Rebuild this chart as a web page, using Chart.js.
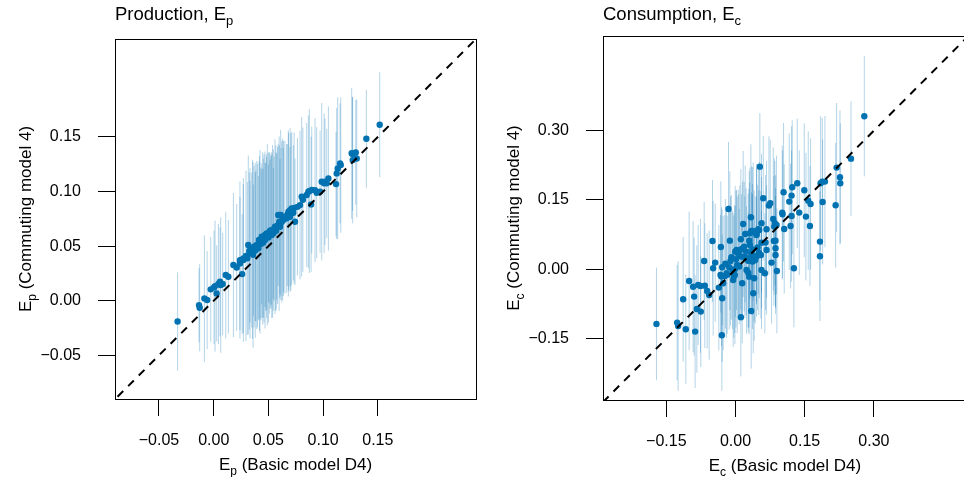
<!DOCTYPE html>
<html>
<head>
<meta charset="utf-8">
<script src="https://cdn.jsdelivr.net/npm/chart.js@4.4.1/dist/chart.umd.min.js"></script>
<style>
  html, body { margin: 0; padding: 0; background: #fff; overflow: hidden; width: 964px; height: 477px; }
  canvas { position: absolute; top: 0; }
</style>
</head>
<body>
<canvas id="prodChart" width="490" height="477" style="left:0"></canvas>
<canvas id="consChart" width="490" height="477" style="left:490px"></canvas>
<script>
// Production: basic model D4 (x), commuting model 4 (y), half-length of the interval (err)
const prodX = [-0.033,-0.0134,-0.0128,-0.0085,-0.006,-0.0027,0.0003,0.0012,0.0027,0.0043,0.0058,0.0064,0.0082,0.011,0.0134,0.018,0.021,0.024,0.024,0.026,
  0.027,0.0271,0.0307,0.0316,0.0332,0.0332,0.0347,0.036,0.0362,0.0369,0.0378,0.038,0.0393,0.0408,0.0414,0.0423,0.043,0.0439,0.0448,0.045,
  0.0453,0.0469,0.0469,0.0484,0.0484,0.05,0.05,0.0515,0.0515,0.053,0.053,0.0545,0.0545,0.056,0.0576,0.057,0.059,0.06,0.0606,0.0612,
  0.0622,0.0636,0.0637,0.0667,0.0682,0.0683,0.0697,0.0698,0.0713,0.0728,0.0743,0.0789,0.0804,0.085,0.0865,0.0874,0.089,0.0896,0.0926,0.0941,
  0.0972,0.0987,0.1009,0.1017,0.1033,0.1048,0.1118,0.1124,0.1133,0.1155,0.1161,0.1261,0.1268,0.127,0.1298,0.1307,0.1395,0.1517,
  0.0295,0.0325,0.0355,0.0385,0.04,0.0418,0.0435,0.046,0.0475,0.049,0.0508,0.0522,0.0538,0.0552,0.0568,0.0583,0.0598,0.0615,0.063,0.065,
  0.0672,0.0705,0.0735,0.0765,0.0815];
const prodY = [-0.019,-0.004,-0.0064,0.002,0.0006,0.0104,0.0122,0.0134,0.0067,0.0153,0.0174,0.0143,0.0153,0.0235,0.022,0.0327,0.0305,0.0372,0.0342,0.0244,
  0.0388,0.0373,0.0388,0.051,0.0449,0.0434,0.0464,0.042,0.0464,0.0495,0.0495,0.046,0.051,0.048,0.0556,0.054,0.052,0.0586,0.057,0.053,
  0.0571,0.0556,0.0602,0.0592,0.0617,0.0617,0.058,0.0641,0.0632,0.0601,0.0647,0.0647,0.0617,0.0678,0.0678,0.064,0.0785,0.0723,0.0678,0.0785,
  0.0723,0.0739,0.0754,0.0755,0.08,0.0815,0.0769,0.083,0.0846,0.0806,0.0723,0.0876,0.0952,0.0968,0.0998,0.1004,0.0882,0.1014,0.1013,0.0989,
  0.0998,0.109,0.1075,0.109,0.1075,0.112,0.1068,0.1166,0.1212,0.1258,0.1242,0.135,0.1343,0.1288,0.1358,0.1303,0.1484,0.1612,
  0.041,0.0455,0.047,0.05,0.0505,0.0525,0.055,0.057,0.0585,0.0605,0.062,0.0625,0.0635,0.066,0.0665,0.069,0.0705,0.072,0.0745,0.0765,
  0.0785,0.0815,0.085,0.086,0.0925];
const prodErr = [0.045,0.034,0.040,0.058,0.045,0.048,0.052,0.060,0.044,0.055,0.050,0.062,0.047,0.058,0.052,0.066,0.058,0.072,0.061,0.055,
  0.068,0.075,0.070,0.082,0.065,0.078,0.071,0.085,0.060,0.074,0.068,0.080,0.077,0.066,0.072,0.084,0.070,0.062,0.079,0.068,
  0.073,0.081,0.066,0.075,0.070,0.063,0.078,0.071,0.066,0.076,0.069,0.074,0.060,0.080,0.067,0.072,0.065,0.070,0.062,0.078,
  0.074,0.066,0.071,0.068,0.076,0.072,0.064,0.075,0.070,0.062,0.058,0.068,0.073,0.066,0.070,0.075,0.062,0.058,0.066,0.060,
  0.056,0.072,0.064,0.058,0.050,0.066,0.048,0.060,0.065,0.055,0.062,0.060,0.052,0.058,0.048,0.054,0.045,0.048,
  0.078,0.072,0.082,0.069,0.075,0.080,0.071,0.077,0.068,0.083,0.074,0.070,0.079,0.066,0.076,0.072,0.080,0.068,0.074,0.070,
  0.065,0.072,0.069,0.063,0.066];

// Consumption: basic model D4 (x), commuting model 4 (y), half-length of the interval (err)
const consX = [-0.1715,-0.1266,-0.1245,-0.1136,-0.1078,-0.1006,-0.092,-0.0897,-0.0876,-0.0839,-0.081,-0.076,-0.0753,-0.068,-0.0666,-0.0615,-0.0572,-0.0499,-0.0485,-0.0441,
  -0.0362,-0.0318,-0.0326,-0.0304,-0.0289,-0.0289,-0.0297,-0.0268,-0.0232,-0.0195,-0.018,-0.0152,-0.0123,-0.0137,-0.0109,-0.0065,-0.0051,-0.0036,-0.0014,-0.0015,
  -0.0007,0.0022,0.0036,0.0058,0.008,0.0093,0.0116,0.013,0.0145,0.0116,0.0166,0.0188,0.0202,0.021,0.0239,0.0274,0.0275,0.0296,0.0297,0.031,
  0.0311,0.0333,0.0347,0.0347,0.0369,0.0369,0.0384,0.0384,0.034,0.0404,0.0405,0.0427,0.0455,0.0456,0.0456,0.0492,0.0506,0.0514,0.0528,0.055,
  0.0564,0.0564,0.0564,0.0601,0.0636,0.0673,0.0673,0.0724,0.0753,0.0781,0.0818,0.0832,0.084,0.0854,0.0868,0.0868,0.0868,0.089,0.0897,0.1013,
  0.102,0.1042,0.1056,0.1165,0.1194,0.1216,0.1216,0.123,0.1266,0.1339,0.1382,0.1491,0.1527,0.1577,0.1614,0.1628,0.1831,0.1831,0.1845,0.1881,
  0.1889,0.1939,0.2171,0.2192,0.2265,0.2272,0.2504,0.2793,
  -0.022,-0.009,0.001,0.007,0.015,0.023,0.029,0.037,0.048,0.065];
const consY = [-0.1183,-0.1154,-0.1227,-0.0649,-0.1299,-0.0253,-0.0377,-0.0592,-0.1349,-0.0859,-0.0339,-0.0361,-0.0916,0.018,-0.0354,-0.0469,-0.0556,0.0613,0.0022,0.0144,
  -0.0397,0.0483,-0.0123,-0.0159,0.0043,-0.0628,-0.1429,-0.0303,-0.0144,-0.0087,-0.012,0.1306,0.062,0.0043,0.018,-0.0014,-0.0231,-0.0159,-0.0123,0.0,
  0.0382,0.0418,0.0094,0.0361,0.0058,0.0418,0.0649,0.0274,-0.0303,-0.1039,0.0981,0.0491,0.026,0.0765,-0.0014,0.0186,-0.0072,-0.016,0.062,0.0779,
  0.0527,0.1126,0.083,0.0346,0.0166,0.0829,0.0815,-0.052,-0.0902,0.0288,-0.0195,0.0202,0.0742,0.0274,0.0765,0.0866,0.036,0.0851,0.2222,0.031,
  0.0996,-0.0014,0.0576,0.1537,-0.0087,0.0866,0.0418,0.1378,0.1429,0.0144,0.1089,0.0613,0.0924,0.0996,0.062,0.0455,0.031,0.096,-0.0036,0.1227,
  0.119,0.1667,0.0873,0.1465,0.0938,0.1154,0.1595,0.1775,0.0022,0.1861,0.1227,0.171,0.114,0.1486,0.0938,0.1414,0.0599,0.0281,0.1861,0.1898,
  0.1457,0.1898,0.1385,0.2201,0.1991,0.1861,0.2395,0.3312,
  0.012,0.026,0.022,0.030,0.045,0.038,0.024,0.043,0.047,0.058];
const consErr = [0.122,0.125,0.140,0.135,0.118,0.150,0.142,0.128,0.122,0.138,0.130,0.145,0.120,0.128,0.135,0.125,0.140,0.132,0.146,0.128,
  0.136,0.142,0.130,0.150,0.125,0.138,0.120,0.145,0.132,0.140,0.128,0.145,0.150,0.135,0.140,0.128,0.145,0.132,0.150,0.138,
  0.142,0.130,0.148,0.136,0.125,0.140,0.152,0.135,0.130,0.128,0.158,0.140,0.132,0.148,0.138,0.145,0.130,0.125,0.150,0.142,
  0.135,0.158,0.140,0.132,0.146,0.138,0.150,0.130,0.125,0.142,0.135,0.138,0.145,0.130,0.152,0.140,0.135,0.148,0.116,0.138,
  0.150,0.128,0.142,0.135,0.130,0.148,0.140,0.150,0.138,0.132,0.155,0.140,0.148,0.135,0.142,0.130,0.128,0.150,0.135,0.145,
  0.138,0.150,0.140,0.148,0.135,0.142,0.150,0.145,0.128,0.140,0.135,0.145,0.138,0.150,0.130,0.142,0.128,0.140,0.145,0.138,
  0.135,0.142,0.135,0.140,0.145,0.130,0.124,0.130,
  0.140,0.135,0.148,0.132,0.145,0.138,0.150,0.142,0.136,0.146];

// tick values and the y = x reference line
const prodTicks = [-0.05, 0.00, 0.05, 0.10, 0.15];
const consTicks = [-0.15, 0.00, 0.15, 0.30];
const diagonal = [-1, 1];

const FONT = '"Liberation Sans", Arial, Helvetica, sans-serif';
const POINT_COLOR = '#0072B2';
const BAR_COLOR = 'rgba(0, 114, 178, 0.3)';

function fmtTick(v) {
  return v.toFixed(2).replace('-', '\u2212');
}

// one small line dataset per interval so overlapping bars darken like in the original
function barSets(xs, ys, errs) {
  return xs.map((x, i) => ({
    type: 'line',
    data: [{ x: x, y: ys[i] - errs[i] }, { x: x, y: ys[i] + errs[i] }],
    borderColor: BAR_COLOR,
    borderWidth: 1,
    pointRadius: 0
  }));
}

// text with subscripts: parts = [[text, isSub], ...]
function drawRich(ctx, parts, x, y, align, size) {
  const main = size + 'px ' + FONT;
  const sub = Math.round(size * 0.7) + 'px ' + FONT;
  let w = 0;
  parts.forEach(p => { ctx.font = p[1] ? sub : main; w += ctx.measureText(p[0]).width; });
  let cx = align === 'center' ? x - w / 2 : x;
  ctx.textAlign = 'left';
  ctx.textBaseline = 'alphabetic';
  parts.forEach(p => {
    ctx.font = p[1] ? sub : main;
    ctx.fillText(p[0], cx, y + (p[1] ? size * 0.27 : 0));
    cx += ctx.measureText(p[0]).width;
  });
}

function panelText(cfg) {
  return {
    id: 'panelText',
    afterDraw(chart) {
      const ctx = chart.ctx;
      const a = chart.chartArea;
      ctx.save();
      ctx.strokeStyle = '#000';
      ctx.lineWidth = 1;
      ctx.strokeRect(Math.round(a.left) + 0.5, Math.round(a.top) + 0.5,
        Math.round(a.right - a.left), Math.round(a.bottom - a.top));
      ctx.fillStyle = '#000';
      drawRich(ctx, cfg.title, a.left, 20, 'left', 18.5);
      drawRich(ctx, cfg.xlab, (a.left + a.right) / 2, a.bottom + 71, 'center', 17);
      ctx.translate(a.left - 84, (a.top + a.bottom) / 2);
      ctx.rotate(-Math.PI / 2);
      drawRich(ctx, cfg.ylab, 0, 0, 'center', 17);
      ctx.restore();
    }
  };
}

function axis(min, max, ticks, size, isX) {
  return {
    type: 'linear',
    min: min,
    max: max,
    afterBuildTicks: s => { s.ticks = ticks.map(v => ({ value: v })); },
    afterFit: s => { if (isX) s.height = size; else s.width = size; },
    grid: { drawOnChartArea: false, drawTicks: true, tickLength: 17, color: '#000', lineWidth: 1 },
    border: { display: false },
    ticks: {
      font: { family: FONT, size: 16 },
      color: '#000',
      padding: isX ? 15 : 17,
      autoSkip: false,
      maxRotation: 0,
      callback: v => fmtTick(v)
    }
  };
}

function makePanel(id, xs, ys, errs, ticks, lim, geo, text) {
  new Chart(document.getElementById(id), {
    type: 'scatter',
    data: {
      datasets: [
        {
          type: 'line',
          data: diagonal.map(v => ({ x: v, y: v })),
          borderColor: '#000',
          borderWidth: 2,
          borderDash: [8, 7],
          pointRadius: 0,
          clip: 0
        },
        {
          data: xs.map((x, i) => ({ x: x, y: ys[i] })),
          pointRadius: 3.2,
          pointBackgroundColor: POINT_COLOR,
          pointBorderWidth: 0
        }
      ].concat(barSets(xs, ys, errs))
    },
    options: {
      responsive: false,
      animation: false,
      devicePixelRatio: 1,
      layout: { padding: { left: 0, right: geo.right, top: geo.top, bottom: 0 } },
      plugins: { legend: { display: false }, tooltip: { enabled: false } },
      scales: {
        x: axis(lim[0], lim[1], ticks, geo.xh, true),
        y: axis(lim[2], lim[3], ticks, geo.yw, false)
      }
    },
    plugins: [panelText(text)]
  });
}

makePanel('prodChart', prodX, prodY, prodErr, prodTicks,
  [-0.0902, 0.2397, -0.0900, 0.2397],
  { right: 14, top: 39, xh: 78, yw: 115 },
  {
    title: [['Production, E', false], ['p', true]],
    xlab: [['E', false], ['p', true], [' (Basic model D4)', false]],
    ylab: [['E', false], ['p', true], [' (Commuting model 4)', false]]
  });

makePanel('consChart', consX, consY, consErr, consTicks,
  [-0.2874, 0.502, -0.283, 0.505],
  { right: 13, top: 36, xh: 77, yw: 113 },
  {
    title: [['Consumption, E', false], ['c', true]],
    xlab: [['E', false], ['c', true], [' (Basic model D4)', false]],
    ylab: [['E', false], ['c', true], [' (Commuting model 4)', false]]
  });
</script>
</body>
</html>
